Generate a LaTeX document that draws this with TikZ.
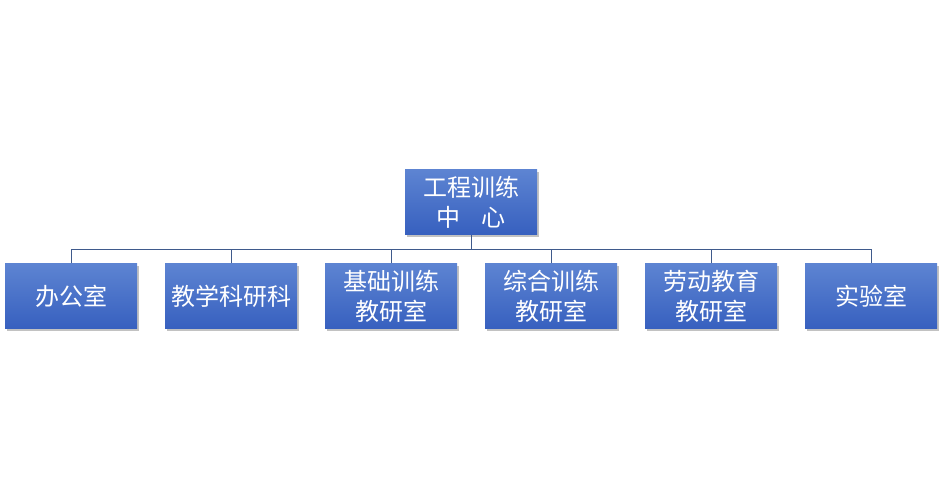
\documentclass[tikz,border=0pt]{standalone}
\usepackage{fontspec}
\newfontfamily\cjk{Noto Sans CJK SC}
\usetikzlibrary{shadows}
\definecolor{boxtop}{HTML}{5D84D2}
\definecolor{boxbot}{HTML}{3760BF}
\definecolor{linec}{HTML}{3F5A8C}
\tikzset{
  org/.style={minimum width=132pt, minimum height=65pt, inner sep=0pt,
    top color=boxtop, bottom color=boxbot, draw=none,
    drop shadow={shadow xshift=1.5pt, shadow yshift=-2pt, opacity=0.4, fill=black!60},
    text=white, align=center, font=\cjk\fontsize{24pt}{30pt}\selectfont},
  conn/.style={draw=linec, line width=0.9pt}
}
\begin{document}
\begin{tikzpicture}[x=1pt,y=-1pt]
\useasboundingbox (0,0) rectangle (944,499);
\node[org] (root) at (471,202) {工程训练\\中\hspace{0.85em}心};
\node[org] (a) at (71,296) {办公室};
\node[org] (b) at (231,296) {教学科研科};
\node[org] (c) at (391,296) {基础训练\\教研室};
\node[org] (d) at (551,296) {综合训练\\教研室};
\node[org] (e) at (711,296) {劳动教育\\教研室};
\node[org] (f) at (871,296) {实验室};
\coordinate (bus) at (471,249);
\draw[conn] (root.south) -- (bus);
\foreach \n in {a,b,c,d,e,f}{
  \draw[conn] (\n.north) -- (\n.north |- bus) -- (bus);
}
\end{tikzpicture}
\end{document}
